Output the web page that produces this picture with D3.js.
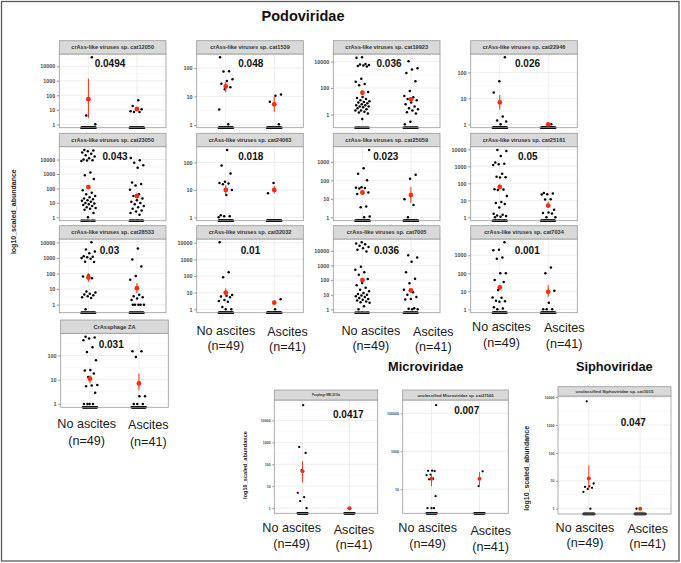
<!DOCTYPE html>
<html><head><meta charset="utf-8">
<script src="https://cdn.jsdelivr.net/npm/d3@7"></script>
<style>body{margin:0;background:#fff}svg{display:block}</style>
</head><body>
<svg id="c" width="681" height="563"></svg>
<script>
// ---------------- DATA ----------------
const categories = ["No ascites", "Ascites"];
const groupN = [49, 41];
const familyTitles = ["Podoviridae", "Microviridae", "Siphoviridae"];
const yAxisTitle = "log10_scaled_abundance";

const panelNames = [
  "crAss-like viruses sp. cat12050", "crAss-like viruses sp. cat1539",
  "crAss-like viruses sp. cat19923", "crAss-like viruses sp. cat22946",
  "crAss-like viruses sp. cat23050", "crAss-like viruses sp. cat24063",
  "crAss-like viruses sp. cat25059", "crAss-like viruses sp. cat25161",
  "crAss-like viruses sp. cat28533", "crAss-like viruses sp. cat32032",
  "crAss-like viruses sp. cat7005", "crAss-like viruses sp. cat7034",
  "CrAssphage ZA", "Poophage MBI-2016a",
  "unclassified Microviridae sp. cat27565", "unclassified Siphoviridae sp. cat1015"
];
const pValues = ["0.0494","0.048","0.036","0.026","0.043","0.018","0.023","0.05",
                 "0.03","0.01","0.036","0.001","0.031","0.0417","0.007","0.047"];

// non-zero abundances per panel (remaining subjects of each group are zeros)
const noAscitesValues = [
  [41000, 4, 1],
  [235, 77, 75, 40, 35, 28, 21, 18, 3.5, 1.05],
  [21000, 20000, 6500, 6000, 5500, 5000, 4600, 4300, 500, 300, 200, 160, 50, 21, 18, 15, 12, 10, 9, 8, 7, 6, 5, 5, 4, 4, 3.5, 3, 2.5, 2, 2, 1.6, 1.4, 1.2, 0.45],
  [380, 46, 17, 2, 1.4, 1.3, 1],
  [45000, 42000, 38000, 30000, 25000, 20000, 16000, 12000, 10000, 9000, 8500, 8000, 1250, 800, 450, 120, 74, 50, 40, 30, 25, 20, 18, 15, 14, 12, 10, 9, 8, 7, 6, 5, 4.5, 4, 3.3, 2, 1],
  [285, 78, 40, 20, 18, 17, 16, 10, 6.5, 1.2, 1.1, 1.1, 1],
  [4300, 450, 225, 100, 42, 40, 38, 36, 22, 20, 18, 3.8, 3.5, 1.1, 1],
  [9000, 8000, 4000, 1700, 1400, 1300, 1200, 360, 240, 230, 220, 45, 43, 40, 18, 8, 7, 6, 3.8, 1.6, 1.4, 1.3, 1.2, 1.1, 1],
  [10000, 3500, 2600, 2000, 1300, 1200, 1100, 1000, 900, 570, 550, 80, 65, 50, 7, 6, 5, 4.5, 4, 3.5, 3, 2.7, 0.5],
  [10500, 166, 83, 7.2, 6.5, 6, 5.3, 3.6, 3.2, 2.9, 1.4, 1, 1],
  [38000, 32000, 28000, 22000, 18000, 15000, 12000, 9000, 830, 500, 350, 230, 120, 63, 45, 30, 22, 17, 13, 11, 10, 9, 8, 7, 6, 5, 4.5, 4, 3.5, 3, 2.8, 1.6, 1],
  [5200, 2000, 1900, 750, 650, 100, 100, 42, 33, 12, 4.6, 4.4, 3, 2.8, 2.6, 1.3, 1.1, 1],
  [600, 550, 500, 430, 220, 140, 63, 25, 24, 18, 13, 6, 5.8, 5.4, 2.9, 1, 1, 1, 1],
  [50000, 620, 330, 54, 5, 3.2, 2.1, 1],
  [270000, 95, 93, 90, 59, 55, 36, 33, 4.3, 1, 1, 1],
  [7100, 8, 6.3, 6, 5.6, 5.1, 4, 1]
];
const ascitesValues = [
  [45, 18, 11, 10, 8, 7, 7],
  [11.7, 10.5, 6.5, 1.05],
  [10700, 3200, 2500, 1400, 330, 60, 25, 20, 15, 12, 8, 6, 4, 3, 2.5, 2, 1.5, 1.2, 0.28, 0.18],
  [1],
  [12500, 9000, 6000, 4000, 2700, 260, 200, 160, 80, 40, 30, 20, 15, 12, 10, 8, 6, 5, 4, 3, 2.5, 2, 1.5],
  [18, 7.5],
  [200, 120, 9.4, 4.7, 1],
  [27, 25, 23, 22, 11.5, 11, 2.8, 1.9, 1.8, 1.7, 1, 1],
  [4000, 800, 280, 70, 40, 4.3, 3.5, 3, 2.5, 2, 1, 1, 1, 1, 1],
  [4, 1],
  [5000, 3500, 1800, 350, 125, 60, 22, 15, 10, 7, 5, 4.7, 1.2, 1.1, 1, 1],
  [210, 100, 10.7, 2.3, 1, 1, 1],
  [150, 150, 87, 2.1, 2.1, 1, 1, 1],
  [1],
  [87, 14.4],
  [1]
];
// group means (red) and their error bars, [No ascites, Ascites]
const meanValues = [[54,11.5],[22.5,5.3],[45,14],[7,1],[123,30],[10,10],[22,16],[61,4.9],
                    [55,11.5],[10,2.5],[100,20],[16.5,9.4],[11,7],[48,1],[35,36],[12,1]];
const errLow  = [[2.8,8],[14,2.9],[30,9],[3.7,1],[90,20],[6.5,7.5],[16,5.8],[45,3.5],
                 [30,5.6],[5.7,2],[75,14],[12,5],[7,3.7],[15,1],[14.3,15.6],[4.9,1]];
const errHigh = [[1400,15],[32,9.6],[65,20],[13.5,1],[170,45],[15,14],[30,44],[85,8.4],
                 [100,24],[18,3.2],[135,28],[22,22],[15,18],[137,1],[63,79],[36,1]];
const yTickLabels = [
  [1,10,100,1000,10000],[1,10,100],[1,100,10000],[1,10,100],
  [1,10,100,1000,10000],[1,10,100],[1,10,100,1000],[1,10,100,1000,10000],
  [1,10,100,1000,10000],[1,10,100,1000,10000],[1,10,100,1000,10000],[1,10,100,1000],
  [1,10,100],[1,10,100,1000,10000],[10,1000,100000],[1,10,100,1000,10000]
];

// ---------------- LAYOUT ----------------
const FONT = "'Liberation Sans', Arial, Helvetica, sans-serif";
const styles = {
  top:    {tick: 5.4, strip: 5.6, dotR: 1.25, meanR: 2.4, jit: 0.15, err: 1.0, tickLen: 2.5},
  bottom: {tick: 3.6, strip: 4.3, dotR: 1.15, meanR: 2.0, jit: 0.11, err: 0.9, tickLen: 2}
};
const cols = [[59.3,166],[196.7,303.3],[333.3,440],[470.7,577.3]];
const rows = [[40.7,54,127.7],[133.3,146.7,220.7],[225.7,239,312.7]];
const layout = [];
const pPos = [[110,63.3],[250.8,63.3],[389,63.3],[527.5,63.3],
              [115,156.7],[250.8,156.7],[385.8,156.7],[527.8,156.7],
              [109.5,250],[250.5,250],[386.5,250],[527.2,250]];
for (let r = 0; r < 3; r++) for (let c = 0; c < 4; c++) {
  const i = r*4 + c;
  layout.push({x0: cols[c][0], x1: cols[c][1], st: rows[r][0], pt: rows[r][1], pb: rows[r][2],
               style: "top", p: pPos[i]});
}
layout.push({x0: 60.7, x1: 168.3, st: 320, pt: 333.3, pb: 407.3, style: "top", p: [111.2,344.3]});
layout.push({x0: 274.3, x1: 377.7, st: 390, pt: 400, pb: 513.3, style: "bottom", p: [348.3,414], stripSize: 2.8});
layout.push({x0: 402.7, x1: 508.3, st: 390, pt: 400, pb: 513.3, style: "bottom", p: [466.7,410], stripSize: 4.2});
layout.push({x0: 558, x1: 671, st: 386.7, pt: 396, pb: 514, style: "bottom", p: [633.3,422.7], stripSize: 4.4});

const catLabelPos = {
  9:  [[225.8,331,346],[287.5,331.7,346.7]],
  10: [[370.8,330.7,346],[433.3,332.3,347.3]],
  11: [[501.5,327.3,343.3],[564.2,328.3,344]],
  12: [[86.7,424.3,440.7],[148.3,425,441.7]],
  13: [[291.7,528.3,544],[354,530,545.3]],
  14: [[427.7,528.3,544],[490.7,530.7,546.7]],
  15: [[585,527.7,543.3],[647.7,528.7,544.3]]
};

const svg = d3.select("#c").style("font-family", FONT);
svg.append("rect").attr("x",1.5).attr("y",1.5).attr("width",677.5).attr("height",559.5)
   .attr("fill","#fff").attr("stroke","#5a5a5a").attr("stroke-width",1.3);

// deterministic jitter offsets in [-0.5, 0.5)
function jit(i, seed) { const f = ((i + 1) * 0.6180339887 + seed * 0.3719) % 1; return f - 0.5; }

function drawPanel(i) {
  const L = layout[i], S = styles[L.style];
  const g = svg.append("g");
  const x = d3.scalePoint().domain(categories).range([L.x0, L.x1]).padding(0.6);
  const step = x.step();
  const groups = [noAscitesValues[i], ascitesValues[i]];
  const finite = [].concat(groups[0], groups[1], meanValues[i], errLow[i], errHigh[i]).filter(v => v > 0);
  const lg = d3.extent(finite, v => Math.log10(v));
  const pad = 0.05 * (lg[1] - lg[0]);
  const y = d3.scaleLog().domain([Math.pow(10, lg[0]-pad), Math.pow(10, lg[1]+pad)]).range([L.pb, L.pt]);
  const dom = y.domain();
  const ticks = yTickLabels[i];

  // panel background + grid
  g.append("rect").attr("x",L.x0).attr("y",L.pt).attr("width",L.x1-L.x0).attr("height",L.pb-L.pt).attr("fill","#fff");
  const lt = ticks.map(Math.log10);
  const stepL = lt.length > 1 ? lt[1]-lt[0] : 1;
  const minors = [];
  for (let k = -1; k < lt.length; k++) minors.push(Math.pow(10, (k < 0 ? lt[0] - stepL/2 : lt[k] + stepL/2)));
  minors.filter(v => v > dom[0] && v < dom[1]).forEach(v => {
    g.append("line").attr("x1",L.x0).attr("x2",L.x1).attr("y1",y(v)).attr("y2",y(v))
     .attr("stroke","#f2f2f2").attr("stroke-width",0.5);
  });
  ticks.forEach(t => {
    g.append("line").attr("x1",L.x0).attr("x2",L.x1).attr("y1",y(t)).attr("y2",y(t))
     .attr("stroke","#e6e6e6").attr("stroke-width",0.7);
  });
  categories.forEach(c => {
    g.append("line").attr("x1",x(c)).attr("x2",x(c)).attr("y1",L.pt).attr("y2",L.pb)
     .attr("stroke","#e6e6e6").attr("stroke-width",0.7);
  });

  // y axis
  const axis = d3.axisLeft(y).tickValues(ticks).tickFormat(d3.format("d")).tickSize(S.tickLen).tickPadding(1.6);
  const ag = g.append("g").attr("transform",`translate(${L.x0},0)`).call(axis);
  ag.select(".domain").remove();
  ag.selectAll(".tick line").attr("stroke","#555").attr("stroke-width",0.6);
  ag.selectAll(".tick text").attr("fill","#4a4a4a").style("font-size",S.tick+"px")
    .style("font-weight","bold").style("font-family",FONT);

  // points
  groups.forEach((vals, k) => {
    const cx = x(categories[k]);
    const nz = groupN[k] - vals.length;
    for (let z = 0; z < nz; z++) {
      g.append("circle").attr("cx", cx + jit(z, 7 + k) * 2 * S.jit * step).attr("cy", L.pb)
       .attr("r", S.dotR).attr("fill","#000");
    }
    vals.forEach((v, j) => {
      g.append("circle").attr("cx", cx + jit(j, 3 + k*5 + i) * 2 * S.jit * step).attr("cy", y(v))
       .attr("r", S.dotR).attr("fill","#000");
    });
    g.append("line").attr("x1",cx).attr("x2",cx).attr("y1",y(errLow[i][k])).attr("y2",y(errHigh[i][k]))
     .attr("stroke","#ff2a10").attr("stroke-width",S.err);
    g.append("circle").attr("cx",cx).attr("cy",y(meanValues[i][k])).attr("r",S.meanR).attr("fill","#ff2a10");
  });

  // border
  g.append("rect").attr("x",L.x0).attr("y",L.pt).attr("width",L.x1-L.x0).attr("height",L.pb-L.pt)
   .attr("fill","none").attr("stroke","#9a9a9a").attr("stroke-width",0.8);
  // strip
  g.append("rect").attr("x",L.x0).attr("y",L.st).attr("width",L.x1-L.x0).attr("height",L.pt-L.st)
   .attr("fill","#d9d9d9").attr("stroke","#9a9a9a").attr("stroke-width",0.8);
  g.append("text").attr("x",(L.x0+L.x1)/2).attr("y",(L.st+L.pt)/2).attr("text-anchor","middle")
   .attr("dominant-baseline","central").attr("fill","#333").style("font-weight","bold")
   .style("font-size",(L.stripSize || S.strip)+"px").text(panelNames[i]);

  // p value
  g.append("text").attr("x",L.p[0]).attr("y",L.p[1]).attr("text-anchor","middle")
   .attr("dominant-baseline","central").attr("fill","#111").style("font-weight","bold")
   .style("font-size","10px").text(pValues[i]);

  // group labels
  if (catLabelPos[i]) catLabelPos[i].forEach((pos, k) => {
    g.append("text").attr("x",pos[0]).attr("y",pos[1]).attr("text-anchor","middle")
     .attr("dominant-baseline","central").attr("fill","#1a1a1a").style("font-size","12.6px").text(categories[k]);
    g.append("text").attr("x",pos[0]).attr("y",pos[2]).attr("text-anchor","middle")
     .attr("dominant-baseline","central").attr("fill","#1a1a1a").style("font-size","12.6px").text(`(n=${groupN[k]})`);
  });
}
for (let i = 0; i < panelNames.length; i++) drawPanel(i);

// family titles
[[familyTitles[0],303,16,14.5],[familyTitles[1],425.8,366.7,12.8],[familyTitles[2],614.3,366.7,12.8]].forEach(t => {
  svg.append("text").attr("x",t[1]).attr("y",t[2]).attr("text-anchor","middle").attr("dominant-baseline","central")
     .attr("fill","#111").style("font-weight","bold").style("font-size",t[3]+"px").text(t[0]);
});
// y axis titles
[[13.5,211.7,7],[245,465,5.6],[526,468.3,7]].forEach(t => {
  svg.append("text").attr("transform",`translate(${t[0]},${t[1]}) rotate(-90)`).attr("text-anchor","middle")
     .attr("dominant-baseline","central").attr("fill","#222").style("font-weight","bold")
     .style("font-size",t[2]+"px").text(yAxisTitle);
});
</script>
</body></html>
